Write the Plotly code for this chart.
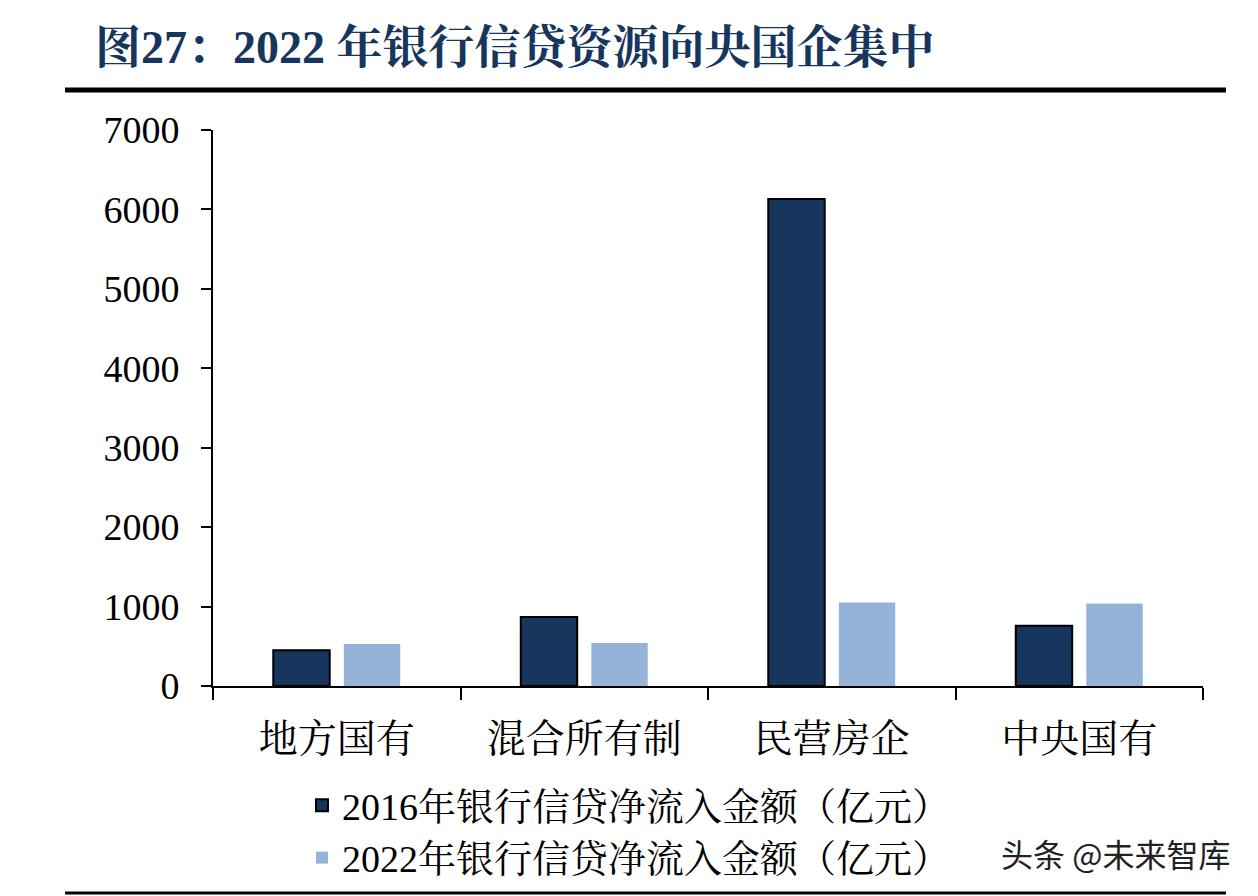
import plotly.graph_objects as go

categories = ["地方国有", "混合所有制", "民营房企", "中央国有"]
series_2016 = [450, 870, 6130, 760]
series_2022 = [530, 540, 1050, 1040]
series_names = ["2016年银行信贷净流入金额（亿元）", "2022年银行信贷净流入金额（亿元）"]
y_ticks = [0, 1000, 2000, 3000, 4000, 5000, 6000, 7000]
title_text = "图27：2022 年银行信贷资源向央国企集中"
watermark = "头条 @未来智库"

OFF = 8  # page body margin
W, H = 1258 - OFF, 896 - OFF
# plot area in screenshot px: x 213..1203, y 130..686
L = 213 - OFF
R = W - (1203 - OFF)
T = 130 - OFF
B = H - (686 - OFF)
pw, ph = W - L - R, H - T - B

def px_x(x):
    return (x - OFF - L) / pw

def px_y(y):
    return (H - B - (y - OFF)) / ph

def cx(x):
    return (x - OFF) / W

def cy(y):
    return 1 - (y - OFF) / H

serif = "Liberation Serif, Noto Serif CJK SC, Noto Sans CJK SC, serif"

fig = go.Figure()
fig.add_trace(go.Bar(
    x=categories, y=series_2016, name=series_names[0],
    marker=dict(color="#17365D", line=dict(color="#000000", width=2)),
))
fig.add_trace(go.Bar(
    x=categories, y=series_2022, name=series_names[1],
    marker=dict(color="#95B3D7", line=dict(color="#95B3D7", width=0)),
))

fig.update_layout(
    width=W, height=H,
    margin=dict(l=L, r=R, t=T, b=B, autoexpand=False),
    paper_bgcolor="white", plot_bgcolor="white",
    barmode="group", bargap=0.43, bargroupgap=0.2,
    font=dict(family=serif, color="#000000"),
    showlegend=True,
    legend=dict(
        xref="container", yref="container",
        x=cx(302), y=cy(774), xanchor="left", yanchor="top",
        font=dict(size=38, family=serif, color="#000000"),
        bgcolor="rgba(0,0,0,0)", itemsizing="constant",
        tracegroupgap=0, itemwidth=30,
    ),
    xaxis=dict(
        showline=True, linecolor="#000000", linewidth=2,
        ticks="outside", tickson="boundaries", ticklen=12, tickcolor="#000000", tickwidth=2,
        tickfont=dict(size=39, family=serif, color="#000000"),
        ticklabelstandoff=17,
        showgrid=False, zeroline=False,
    ),
    yaxis=dict(
        range=[0, 7000], tickvals=y_ticks,
        showline=True, linecolor="#000000", linewidth=2,
        ticks="outside", ticklen=10, tickcolor="#000000", tickwidth=2,
        tickfont=dict(size=38, family=serif, color="#000000"),
        ticklabelstandoff=14,
        showgrid=False, zeroline=False,
    ),
    shapes=[
        dict(type="line", xref="paper", yref="paper",
             x0=px_x(65), x1=px_x(1226), y0=px_y(90), y1=px_y(90),
             line=dict(color="#000000", width=5)),
        dict(type="line", xref="paper", yref="paper",
             x0=px_x(65), x1=px_x(1226), y0=px_y(893), y1=px_y(893),
             line=dict(color="#000000", width=3)),
    ],
    annotations=[
        dict(text="<b>" + title_text + "</b>", xref="paper", yref="paper",
             x=px_x(93), y=px_y(47), xanchor="left", yanchor="middle",
             showarrow=False,
             font=dict(size=46, color="#17365D", family=serif)),
        dict(text=watermark, xref="paper", yref="paper",
             x=px_x(1232), y=px_y(853), xanchor="right", yanchor="middle",
             showarrow=False,
             font=dict(size=32, color="#222222", family="Noto Sans CJK SC, sans-serif")),
    ],
)

fig.write_html("out.html")
